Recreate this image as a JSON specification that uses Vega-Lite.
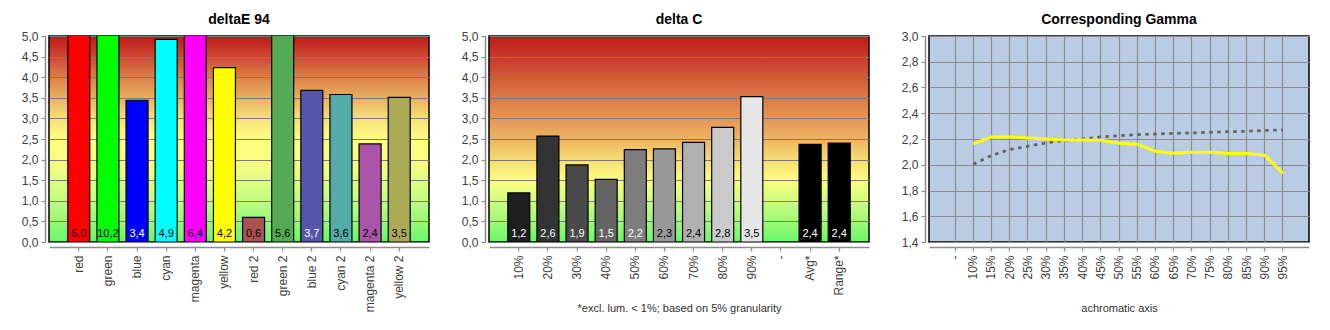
{
  "$schema": "https://vega.github.io/schema/vega-lite/v6.json",
  "background": "white",
  "padding": {"left": 20, "top": 12, "right": 5, "bottom": 5},
  "spacing": 60,
  "bounds": "flush",
  "resolve": {"scale": {"color": "independent", "x": "independent", "y": "independent"}},
  "datasets": {
    "de": [
      {"cat": "red", "value": 6.0},
      {"cat": "green", "value": 10.2},
      {"cat": "blue", "value": 3.44},
      {"cat": "cyan", "value": 4.92},
      {"cat": "magenta", "value": 6.4},
      {"cat": "yellow", "value": 4.23},
      {"cat": "red 2", "value": 0.6},
      {"cat": "green 2", "value": 5.6},
      {"cat": "blue 2", "value": 3.68},
      {"cat": "cyan 2", "value": 3.58},
      {"cat": "magenta 2", "value": 2.38},
      {"cat": "yellow 2", "value": 3.51}
    ],
    "dc": [
      {"cat": "10%", "value": 1.19},
      {"cat": "20%", "value": 2.57},
      {"cat": "30%", "value": 1.87},
      {"cat": "40%", "value": 1.52},
      {"cat": "50%", "value": 2.24},
      {"cat": "60%", "value": 2.26},
      {"cat": "70%", "value": 2.42},
      {"cat": "80%", "value": 2.78},
      {"cat": "90%", "value": 3.53},
      {"cat": "Avg*", "value": 2.37},
      {"cat": "Range*", "value": 2.4}
    ],
    "gamma": [
      {"x": "10%", "measured": 2.162, "target": 2.003},
      {"x": "15%", "measured": 2.216, "target": 2.072},
      {"x": "20%", "measured": 2.216, "target": 2.118},
      {"x": "25%", "measured": 2.208, "target": 2.144},
      {"x": "30%", "measured": 2.2, "target": 2.17},
      {"x": "35%", "measured": 2.193, "target": 2.188},
      {"x": "40%", "measured": 2.193, "target": 2.2},
      {"x": "45%", "measured": 2.19, "target": 2.216},
      {"x": "50%", "measured": 2.167, "target": 2.226},
      {"x": "55%", "measured": 2.16, "target": 2.234},
      {"x": "60%", "measured": 2.105, "target": 2.239},
      {"x": "65%", "measured": 2.09, "target": 2.244},
      {"x": "70%", "measured": 2.098, "target": 2.247},
      {"x": "75%", "measured": 2.098, "target": 2.252},
      {"x": "80%", "measured": 2.087, "target": 2.257},
      {"x": "85%", "measured": 2.087, "target": 2.26},
      {"x": "90%", "measured": 2.075, "target": 2.267},
      {"x": "95%", "measured": 1.933, "target": 2.27}
    ]
  },
  "hconcat": [
    {
      "width": 380,
      "height": 206,
      "title": {"text": "deltaE 94"},
      "view": {
        "stroke": "black",
        "strokeWidth": 1.5,
        "fill": {
          "gradient": "linear", "x1": 0, "y1": 0, "x2": 0, "y2": 1,
          "stops": [
            {"offset": 0, "color": "#c0181a"},
            {"offset": 0.1, "color": "#cc4a30"},
            {"offset": 0.2, "color": "#dc8048"},
            {"offset": 0.3, "color": "#e8b060"},
            {"offset": 0.4, "color": "#f6e07a"},
            {"offset": 0.5, "color": "#fefe80"},
            {"offset": 0.6, "color": "#fcfc80"},
            {"offset": 0.7, "color": "#e0fe80"},
            {"offset": 0.8, "color": "#c0fc80"},
            {"offset": 0.9, "color": "#98f878"},
            {"offset": 1, "color": "#68f868"}
          ]
        }
      },
      "data": {"name": "de"},
      "encoding": {
        "x": {
          "field": "cat", "type": "nominal", "sort": null,
          "scale": {"domain": ["red", "green", "blue", "cyan", "magenta", "yellow", "red 2", "green 2", "blue 2", "cyan 2", "magenta 2", "yellow 2"], "paddingInner": 0.245, "paddingOuter": 0.645},
          "axis": {"title": null, "labelAngle": -90, "offset": 5, "tickSize": 4, "labelPadding": 4}
        }
      },
      "layer": [
        {
          "mark": {"type": "bar", "stroke": "black", "strokeWidth": 1.2, "clip": true},
          "encoding": {
            "y": {
              "field": "value", "type": "quantitative",
              "scale": {"domain": [0, 5], "nice": false},
              "axis": {"title": null, "values": [0, 0.5, 1, 1.5, 2, 2.5, 3, 3.5, 4, 4.5, 5], "format": ".1f", "offset": 4, "tickSize": 4, "labelPadding": 3, "grid": true, "labelOverlap": false}
            },
            "color": {
              "field": "cat", "type": "nominal", "legend": null,
              "scale": {"domain": ["red", "green", "blue", "cyan", "magenta", "yellow", "red 2", "green 2", "blue 2", "cyan 2", "magenta 2", "yellow 2"], "range": ["#ff0000", "#00ff00", "#0000ff", "#00ffff", "#ff00ff", "#ffff00", "#a85252", "#55aa55", "#5555aa", "#55aaaa", "#aa55aa", "#aaaa55"]}
            }
          }
        },
        {
          "mark": {"type": "text", "font": "Liberation Sans", "fontSize": 11, "baseline": "alphabetic", "dy": -5},
          "encoding": {
            "y": {"datum": 0, "type": "quantitative", "axis": {"title": null, "values": [0, 0.5, 1, 1.5, 2, 2.5, 3, 3.5, 4, 4.5, 5], "format": ".1f", "offset": 4, "tickSize": 4, "labelPadding": 3, "grid": true, "labelOverlap": false}},
            "text": {"field": "value", "type": "quantitative", "format": ".1f"},
            "color": {"condition": {"test": "datum.cat === 'blue' || datum.cat === 'blue 2'", "value": "white"}, "value": "black"}
          }
        }
      ]
    },
    {
      "width": 380,
      "height": 206,
      "title": {"text": "delta C"},
      "view": {
        "stroke": "black",
        "strokeWidth": 1.5,
        "fill": {
          "gradient": "linear", "x1": 0, "y1": 0, "x2": 0, "y2": 1,
          "stops": [
            {"offset": 0, "color": "#c21a1a"},
            {"offset": 0.1, "color": "#c83a28"},
            {"offset": 0.2, "color": "#d05a38"},
            {"offset": 0.3, "color": "#dc7a48"},
            {"offset": 0.4, "color": "#e49658"},
            {"offset": 0.5, "color": "#ecb462"},
            {"offset": 0.6, "color": "#f6dc72"},
            {"offset": 0.7, "color": "#fefe80"},
            {"offset": 0.8, "color": "#d0fc80"},
            {"offset": 0.9, "color": "#a0f878"},
            {"offset": 1, "color": "#68f868"}
          ]
        }
      },
      "data": {"name": "dc"},
      "encoding": {
        "x": {
          "field": "cat", "type": "nominal", "sort": null,
          "scale": {"domain": ["10%", "20%", "30%", "40%", "50%", "60%", "70%", "80%", "90%", "-", "Avg*", "Range*"], "paddingInner": 0.245, "paddingOuter": 0.645},
          "axis": {"title": "*excl. lum. < 1%; based on 5% granularity", "labelAngle": -90, "offset": 5, "tickSize": 4, "labelPadding": 4, "titleY": 64, "titleBaseline": "alphabetic"}
        }
      },
      "layer": [
        {
          "mark": {"type": "bar", "stroke": "black", "strokeWidth": 1.2, "clip": true},
          "encoding": {
            "y": {
              "field": "value", "type": "quantitative",
              "scale": {"domain": [0, 5], "nice": false},
              "axis": {"title": null, "values": [0, 0.5, 1, 1.5, 2, 2.5, 3, 3.5, 4, 4.5, 5], "format": ".1f", "offset": 4, "tickSize": 4, "labelPadding": 3, "grid": true, "labelOverlap": false}
            },
            "color": {
              "field": "cat", "type": "nominal", "legend": null,
              "scale": {"domain": ["10%", "20%", "30%", "40%", "50%", "60%", "70%", "80%", "90%", "-", "Avg*", "Range*"], "range": ["#1e1e1e", "#333333", "#4a4a4a", "#646464", "#7e7e7e", "#989898", "#b0b0b0", "#cacaca", "#e6e6e6", "#ffffff", "#000000", "#000000"]}
            }
          }
        },
        {
          "mark": {"type": "text", "font": "Liberation Sans", "fontSize": 11, "baseline": "alphabetic", "dy": -5},
          "encoding": {
            "y": {"datum": 0, "type": "quantitative", "axis": {"title": null, "values": [0, 0.5, 1, 1.5, 2, 2.5, 3, 3.5, 4, 4.5, 5], "format": ".1f", "offset": 4, "tickSize": 4, "labelPadding": 3, "grid": true, "labelOverlap": false}},
            "text": {"field": "value", "type": "quantitative", "format": ".1f"},
            "color": {"condition": {"test": "indexof(['60%','70%','80%','90%'], datum.cat) >= 0", "value": "black"}, "value": "white"}
          }
        }
      ]
    },
    {
      "width": 380,
      "height": 206,
      "title": {"text": "Corresponding Gamma"},
      "view": {"stroke": "black", "strokeWidth": 1.5, "fill": "#b9cce4"},
      "data": {"name": "gamma"},
      "encoding": {
        "x": {
          "field": "x", "type": "nominal", "sort": null,
          "scale": {"type": "band", "paddingInner": 0, "paddingOuter": 0.93, "domain": ["-", "10%", "15%", "20%", "25%", "30%", "35%", "40%", "45%", "50%", "55%", "60%", "65%", "70%", "75%", "80%", "85%", "90%", "95%"]},
          "axis": {"title": "achromatic axis", "labelAngle": -90, "offset": 5, "tickSize": 4, "labelPadding": 4, "grid": true, "bandPosition": 0.5, "gridColor": "#8c8c8c", "gridWidth": 1.2, "titleY": 64, "titleBaseline": "alphabetic"}
        },
        "y": {
          "type": "quantitative",
          "scale": {"domain": [1.4, 3.0], "nice": false, "zero": false},
          "axis": {"title": null, "values": [1.4, 1.6, 1.8, 2.0, 2.2, 2.4, 2.6, 2.8, 3.0], "format": ".1f", "offset": 4, "tickSize": 4, "labelPadding": 3, "grid": true, "labelOverlap": false, "gridColor": "#8c8c8c", "gridWidth": 1.2}
        }
      },
      "layer": [
        {
          "mark": {"type": "line", "color": "#646464", "strokeWidth": 2.8, "strokeDash": [3.5, 4.5], "strokeCap": "butt"},
          "encoding": {"y": {"field": "target", "type": "quantitative"}}
        },
        {
          "mark": {"type": "line", "color": "#ffff00", "strokeWidth": 3},
          "encoding": {"y": {"field": "measured", "type": "quantitative"}}
        }
      ]
    }
  ],
  "config": {
    "locale": {"number": {"decimal": ",", "thousands": ".", "grouping": [3], "currency": ["", " €"]}},
    "font": "Liberation Sans",
    "title": {"font": "Liberation Sans", "fontSize": 14, "fontWeight": "bold", "color": "black", "offset": 3},
    "axis": {
      "labelFont": "Liberation Sans", "labelFontSize": 12, "labelColor": "#404040",
      "titleFont": "Liberation Sans", "titleFontSize": 11, "titleFontWeight": "normal", "titleColor": "#303030",
      "domainColor": "#8c8c8c", "domainWidth": 1.5, "tickColor": "#8c8c8c", "tickWidth": 1.2,
      "gridColor": "#7a7a7a", "gridWidth": 1.2
    }
  }
}
